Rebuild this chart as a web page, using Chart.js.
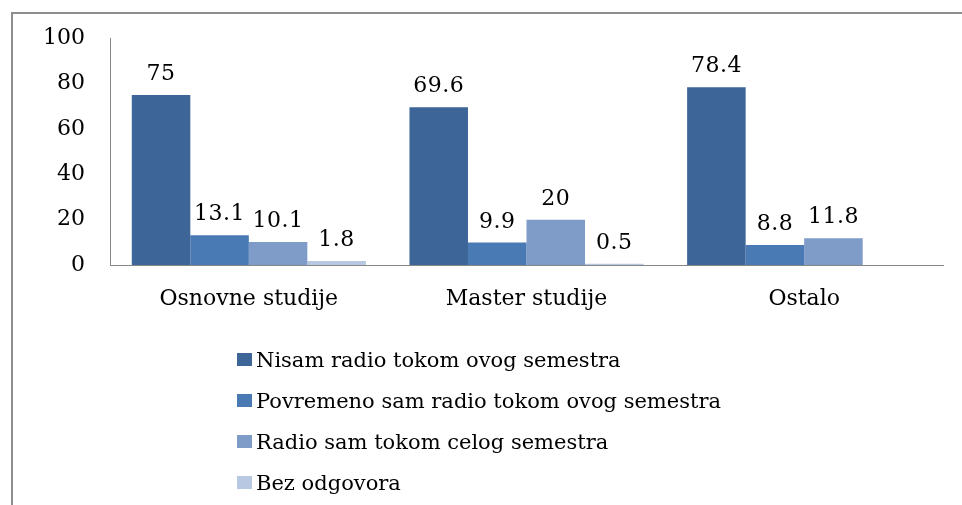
<!DOCTYPE html>
<html>
<head>
<meta charset="utf-8">
<script src="https://cdn.jsdelivr.net/npm/chart.js@4.4.1/dist/chart.umd.min.js"></script>
<style>
  html, body { margin: 0; padding: 0; background: #fff; }
  #wrap { position: relative; width: 962px; height: 505px; overflow: hidden; }
  /* okvir je odsečen desno i dole */
  #frame {
    position: absolute; left: 11px; top: 12px; width: 1000px; height: 600px;
    border: 2px solid #8e8e8e; box-sizing: border-box;
  }
  canvas { position: absolute; left: 0; top: 0; }
  #legend {
    position: absolute; left: 237px; top: 339px;
    font-family: "DejaVu Serif", serif; font-size: 21px; color: #000;
  }
  #legend .item { height: 41px; display: flex; align-items: center; }
  #legend .box { width: 15px; height: 13px; margin-right: 4px; }
</style>
</head>
<body>
<div id="wrap">
  <div id="frame"></div>
  <canvas id="myChart" width="962" height="505"></canvas>
  <div id="legend"></div>
</div>
<script>
// podaci sa slike
const categories = ['Osnovne studije', 'Master studije', 'Ostalo'];
const seriesNames = [
  'Nisam radio tokom ovog semestra',
  'Povremeno sam radio tokom ovog semestra',
  'Radio sam tokom celog semestra',
  'Bez odgovora'
];
const nisamRadio = [75, 69.6, 78.4];
const povremeno = [13.1, 9.9, 8.8];
const celogSemestra = [10.1, 20, 11.8];
const bezOdgovora = [1.8, 0.5, null];
const yTicks = [0, 20, 40, 60, 80, 100];

const colors = ['#3d6597', '#4a7ab3', '#7f9cc8', '#b8c8e3'];
const fontFamily = '"DejaVu Serif", serif';

// natpisi iznad stubova
const valueLabels = {
  id: 'valueLabels',
  afterDatasetsDraw(chart) {
    const ctx = chart.ctx;
    ctx.save();
    ctx.font = '22px ' + fontFamily;
    ctx.letterSpacing = '0.5px';
    ctx.fillStyle = '#000';
    ctx.textAlign = 'center';
    ctx.textBaseline = 'alphabetic';
    chart.data.datasets.forEach((ds, i) => {
      const meta = chart.getDatasetMeta(i);
      meta.data.forEach((bar, j) => {
        const v = ds.data[j];
        if (v === null || v === undefined) return;
        ctx.fillText(String(v), bar.x, bar.y - 15);
      });
    });
    ctx.restore();
  }
};

const allSeries = [nisamRadio, povremeno, celogSemestra, bezOdgovora];

const chart = new Chart(document.getElementById('myChart').getContext('2d'), {
  type: 'bar',
  data: {
    labels: categories,
    datasets: allSeries.map((data, i) => ({
      label: seriesNames[i],
      data: data,
      backgroundColor: colors[i],
      borderWidth: 0,
      barPercentage: 1,
      categoryPercentage: 0.843
    }))
  },
  options: {
    responsive: false,
    animation: false,
    layout: { padding: { left: 20, top: 38, right: 19, bottom: 180 } },
    scales: {
      x: {
        grid: { display: false, drawTicks: false },
        border: { color: '#868686', width: 1 },
        ticks: { color: '#000', padding: 21, font: { family: fontFamily, size: 22 } },
        afterFit: (s) => { s.height = 60; }
      },
      y: {
        min: 0,
        max: 100,
        afterBuildTicks: (s) => { s.ticks = yTicks.map(v => ({ value: v })); },
        grid: { display: false, drawTicks: false },
        border: { color: '#868686', width: 1 },
        ticks: { color: '#000', padding: 25, font: { family: fontFamily, size: 22 } },
        afterFit: (s) => { s.width = 90; }
      }
    },
    plugins: {
      legend: { display: false },
      tooltip: { enabled: false }
    }
  },
  plugins: [valueLabels]
});

// legenda jedna ispod druge
const legendEl = document.getElementById('legend');
chart.data.datasets.forEach((ds) => {
  const row = document.createElement('div');
  row.className = 'item';
  const box = document.createElement('span');
  box.className = 'box';
  box.style.background = ds.backgroundColor;
  const txt = document.createElement('span');
  txt.textContent = ds.label;
  row.appendChild(box);
  row.appendChild(txt);
  legendEl.appendChild(row);
});
</script>
</body>
</html>
